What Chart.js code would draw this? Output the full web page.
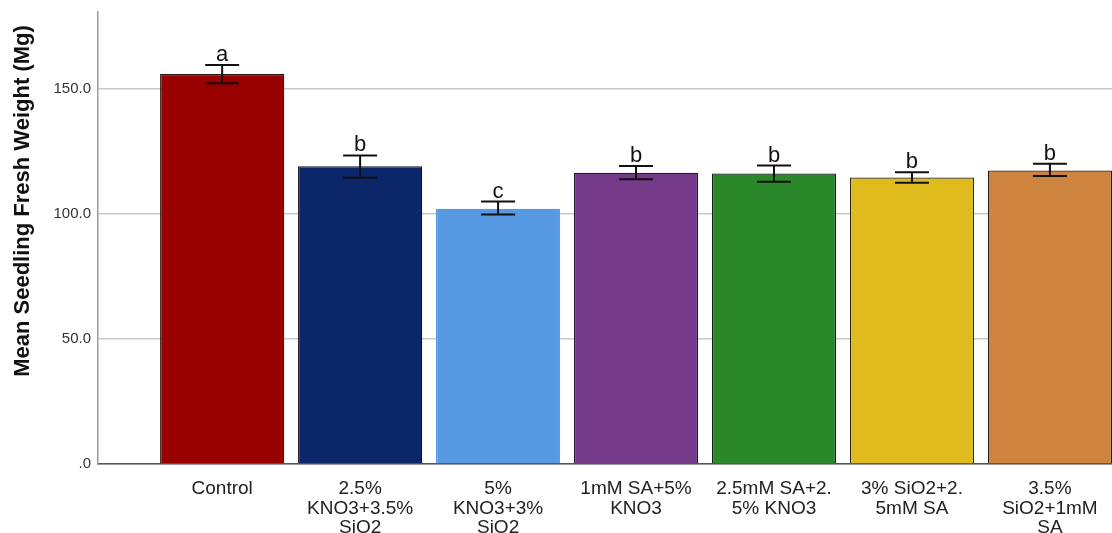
<!DOCTYPE html>
<html lang="en">
<head>
<meta charset="UTF-8">
<title>Mean Seedling Fresh Weight</title>
<style>
    html, body {
        margin: 0;
        padding: 0;
        background: #ffffff;
        overflow: hidden;
    }
    #wrap {
        width: 1112px;
        height: 533px;
    }
</style>
</head>
<body>
<div id="wrap">
    <canvas id="weightChart" width="1112" height="533"></canvas>
</div>

<script src="https://cdn.jsdelivr.net/npm/chart.js"></script>
<script>
    // treatments (multi-line tick labels)
    const categories = [
        ["Control"],
        ["2.5%", "KNO3+3.5%", "SiO2"],
        ["5%", "KNO3+3%", "SiO2"],
        ["1mM SA+5%", "KNO3"],
        ["2.5mM SA+2.", "5% KNO3"],
        ["3% SiO2+2.", "5mM SA"],
        ["3.5%", "SiO2+1mM", "SA"]
    ];
    const means = [155.7, 118.9, 101.9, 116.3, 116.0, 114.4, 117.2];
    const errLow = [152.0, 114.3, 99.6, 113.7, 112.7, 112.3, 115.0];
    const errHigh = [159.3, 123.2, 104.8, 119.0, 119.2, 116.5, 119.9];
    const letters = ["a", "b", "c", "b", "b", "b", "b"];
    const yTicks = [0, 50, 100, 150];
    const yTickLabels = [".0", "50.0", "100.0", "150.0"];

    const fills = ["#990000", "#0b2669", "#5899e4", "#763a8b", "#2a872a", "#e0bb1e", "#cd843f"];
    const edges = ["#2a1010", "#141428", "#5899e4", "#221a28", "#142014", "#2a2614", "#2a1e14"];

    const FONT = "Arial, 'Liberation Sans', sans-serif";

    // error bars and significance letters
    const errorBars = {
        id: "errorBars",
        afterDatasetsDraw(chart) {
            const x = chart.scales.x, y = chart.scales.y, ctx = chart.ctx;
            ctx.save();
            ctx.strokeStyle = "#111";
            ctx.lineWidth = 2;
            ctx.fillStyle = "#111";
            ctx.font = "22px " + FONT;
            ctx.textAlign = "center";
            ctx.textBaseline = "alphabetic";
            means.forEach((m, i) => {
                const px = x.getPixelForValue(i);
                const top = y.getPixelForValue(errHigh[i]);
                const bot = y.getPixelForValue(errLow[i]);
                ctx.beginPath();
                ctx.moveTo(px, top); ctx.lineTo(px, bot);
                ctx.moveTo(px - 17, top); ctx.lineTo(px + 17, top);
                ctx.moveTo(px - 17, bot); ctx.lineTo(px + 17, bot);
                ctx.stroke();
                ctx.fillText(letters[i], px, top - 4);
            });
            ctx.restore();
        }
    };

    // y-axis title, placed a little above the plot centre
    const yTitle = {
        id: "yTitle",
        afterDraw(chart) {
            const ctx = chart.ctx;
            ctx.save();
            ctx.translate(29, 201);
            ctx.rotate(-Math.PI / 2);
            ctx.font = "bold 22px " + FONT;
            ctx.fillStyle = "#111";
            ctx.textAlign = "center";
            ctx.textBaseline = "alphabetic";
            ctx.fillText("Mean Seedling Fresh Weight (Mg)", 0, 0);
            ctx.restore();
        }
    };

    new Chart(document.getElementById("weightChart"), {
        type: "bar",
        data: {
            datasets: [{
                data: means.map((v, i) => ({ x: i, y: v })),
                backgroundColor: fills,
                borderColor: edges,
                borderWidth: 1.2,
                barPercentage: 0.9,
                categoryPercentage: 1.0
            }]
        },
        options: {
            responsive: false,
            animation: false,
            layout: { padding: { top: 12, right: 0, left: 0, bottom: 0 } },
            plugins: {
                legend: { display: false },
                tooltip: { enabled: false }
            },
            scales: {
                x: {
                    type: "linear",
                    min: -0.9,
                    max: 6.45,
                    offset: false,
                    grid: { display: false, drawTicks: false, offset: false },
                    border: { display: true, color: "#555", width: 1.5 },
                    afterBuildTicks: (s) => { s.ticks = categories.map((_, i) => ({ value: i })); },
                    afterFit: (s) => { s.height = 69; s.paddingLeft = 0; s.paddingRight = 0; },
                    ticks: {
                        autoSkip: false,
                        maxRotation: 0,
                        padding: 15,
                        color: "#222",
                        font: { family: FONT, size: 19, lineHeight: "19.7px" },
                        callback: (v) => categories[v]
                    }
                },
                y: {
                    min: 0,
                    max: 180.5,
                    grid: { color: "#c8c8c8", lineWidth: 1.5, drawTicks: false },
                    border: { display: true, color: "#999", width: 1.5 },
                    afterBuildTicks: (s) => { s.ticks = yTicks.map(v => ({ value: v })); },
                    afterFit: (s) => { s.width = 98; s.paddingTop = 0; s.paddingBottom = 0; },
                    ticks: {
                        padding: 7,
                        color: "#333",
                        font: { family: FONT, size: 15 },
                        callback: (v) => yTickLabels[yTicks.indexOf(v)]
                    }
                }
            }
        },
        plugins: [errorBars, yTitle]
    });
</script>
</body>
</html>
